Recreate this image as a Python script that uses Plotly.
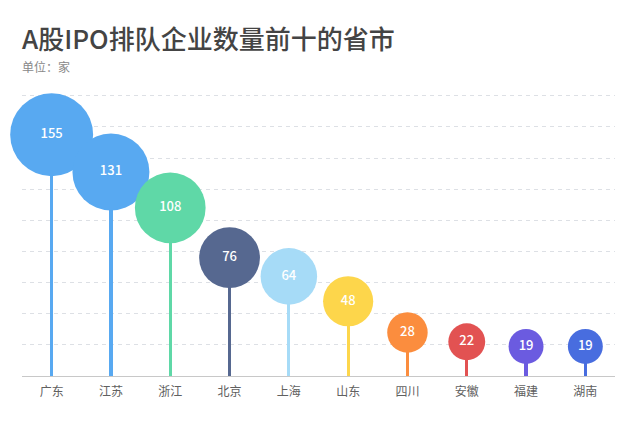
import plotly.graph_objects as go
import math

provinces = ["广东", "江苏", "浙江", "北京", "上海", "山东", "四川", "安徽", "福建", "湖南"]
counts = [155, 131, 108, 76, 64, 48, 28, 22, 19, 19]
colors = ["#58a9f1", "#58a9f1", "#5fd8a7", "#566890", "#a6dbf7",
          "#fdd64b", "#fb8d3e", "#e25252", "#6b5be0", "#486ddf"]

title_text = "A股IPO排队企业数量前十的省市"
unit_text = "单位：家"

sizes = [5.93 * math.sqrt(v) + 9.1 for v in counts]
font_family = "Noto Sans CJK SC, Noto Sans, sans-serif"

fig = go.Figure()
fig.add_trace(go.Bar(
    x=provinces, y=counts, width=0.055,
    marker=dict(color=colors, line=dict(width=0)),
    hoverinfo="skip",
))
fig.add_trace(go.Scatter(
    x=provinces, y=counts, mode="markers+text",
    marker=dict(size=sizes, color=colors, opacity=1, line=dict(width=0)),
    text=[str(v) for v in counts], textposition="middle center",
    textfont=dict(color="white", size=13, family=font_family, weight=500),
    cliponaxis=False,
))

# plot area spans y=88 (top) to y=376 (bottom); y range 0..185
top_px, bot_px = 88, 376
def paper_y(px):
    return (bot_px - px) / float(bot_px - top_px)

fig.update_layout(
    width=640, height=421,
    margin=dict(l=22, r=25, t=top_px, b=421 - bot_px),
    paper_bgcolor="white", plot_bgcolor="white",
    showlegend=False,
    font=dict(family=font_family),
    bargap=0,
    annotations=[
        dict(text=title_text, xref="paper", yref="paper",
             x=-0.003, y=paper_y(38), xanchor="left", yanchor="middle",
             showarrow=False,
             font=dict(size=26, color="#444444", family=font_family, weight=500)),
        dict(text=unit_text, xref="paper", yref="paper",
             x=-0.003, y=paper_y(67), xanchor="left", yanchor="middle",
             showarrow=False, font=dict(size=12, color="#888888", family=font_family)),
    ],
)

fig.update_xaxes(
    showgrid=False, showline=True, linecolor="#c8c8c8", linewidth=1,
    ticks="outside", ticklen=5, tickcolor="rgba(0,0,0,0)",
    tickfont=dict(size=12, color="#606060", family=font_family),
    range=[-0.5, 9.5],
)
fig.update_yaxes(
    range=[0, 185], tick0=0, dtick=20, showticklabels=False,
    showgrid=True, gridcolor="#dde0e5", griddash="4px,4px", gridwidth=1,
    zeroline=False,
)

fig.write_html("out.html")
